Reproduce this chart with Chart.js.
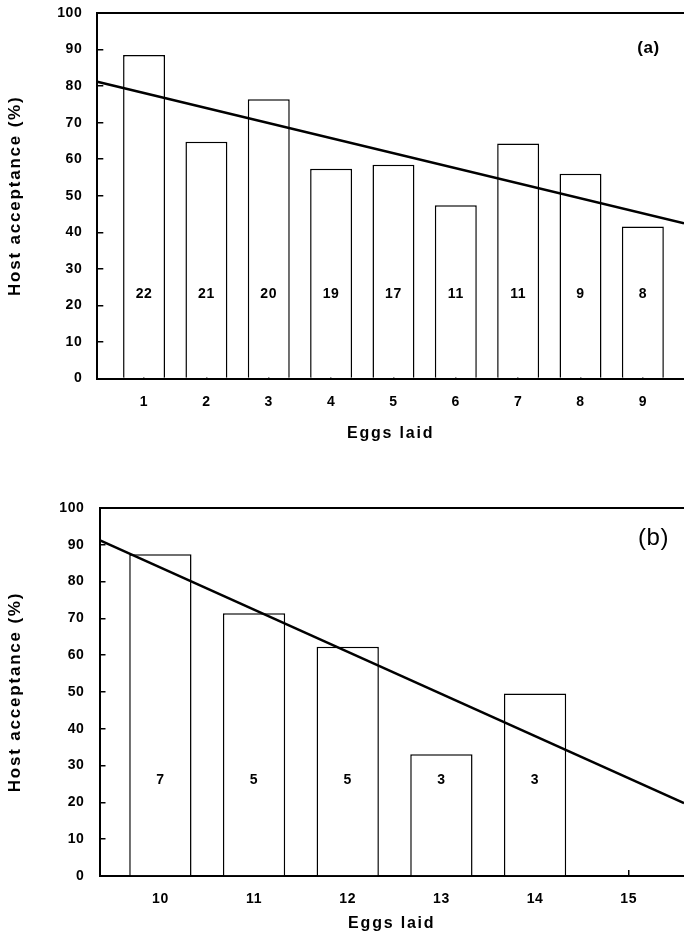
<!DOCTYPE html>
<html>
<head>
<meta charset="utf-8">
<script src="https://cdn.jsdelivr.net/npm/chart.js@4"></script>
<style>
  html, body { margin: 0; padding: 0; background: #fff; }
  .panel { position: relative; width: 684px; height: 472px; }
</style>
</head>
<body>
<div class="panel"><canvas id="chartA"></canvas></div>
<div class="panel"><canvas id="chartB"></canvas></div>
<script>
// panel (a)
const eggsA = [1, 2, 3, 4, 5, 6, 7, 8, 9];
const acceptA = [88.5, 64.8, 76.4, 57.4, 58.5, 47.4, 64.3, 56.0, 41.6];
const countsA = [22, 21, 20, 19, 17, 11, 11, 9, 8];
const fitXA = [0.25, 9.66];
const fitYA = [81.2, 42.5];

// panel (b)
const eggsB = [10, 11, 12, 13, 14];
const acceptB = [87.4, 71.4, 62.3, 33.1, 49.6];
const countsB = [7, 5, 5, 3, 3];
const ticksB = [10, 11, 12, 13, 14, 15];
const fitXB = [9.35, 15.59];
const fitYB = [91.3, 19.8];

const yTicks = [0, 10, 20, 30, 40, 50, 60, 70, 80, 90, 100];

const FONT = "'Liberation Sans', Arial, sans-serif";

const decor = {
    id: 'decor',
    beforeDraw(chart) {
        chart.ctx.letterSpacing = '1.8px';
    },
    beforeDatasetsDraw(chart) {
        chart.ctx.letterSpacing = '0.6px';
    },
    afterDatasetsDraw(chart, args, opts) {
        const ctx = chart.ctx;
        const a = chart.chartArea;
        const y = chart.scales.y;
        ctx.save();
        // frame line along the top
        ctx.strokeStyle = '#000';
        ctx.lineWidth = 2;
        ctx.beginPath();
        ctx.moveTo(a.left, a.top);
        ctx.lineTo(a.right, a.top);
        ctx.stroke();
        // sample sizes inside the bars
        ctx.fillStyle = '#000';
        ctx.textAlign = 'center';
        ctx.textBaseline = 'middle';
        ctx.font = 'bold 14px ' + FONT;
        chart.getDatasetMeta(1).data.forEach((bar, i) => {
            ctx.fillText(String(opts.counts[i]), bar.x, y.getPixelForValue(opts.countAt));
        });
        // panel tag
        ctx.font = opts.tagFont;
        ctx.fillText(opts.tag, a.right - opts.tagDx, a.top + opts.tagDy);
        ctx.restore();
    }
};

function makePanel(id, cfg) {
    return new Chart(document.getElementById(id), {
        data: {
            datasets: [{
                type: 'line',
                data: cfg.fitX.map((x, i) => ({ x: x, y: cfg.fitY[i] })),
                borderColor: '#000',
                borderWidth: 2.5,
                pointRadius: 0,
                tension: 0,
                order: 0
            }, {
                type: 'bar',
                data: cfg.eggs.map((x, i) => ({ x: x, y: cfg.accept[i] })),
                backgroundColor: '#fff',
                borderColor: '#000',
                borderWidth: 1.5,
                categoryPercentage: 1,
                barPercentage: cfg.barPct,
                order: 1
            }]
        },
        options: {
            responsive: true,
            maintainAspectRatio: false,
            animation: false,
            layout: {
                padding: { top: cfg.padTop, right: 0, bottom: 0, left: 0 }
            },
            plugins: {
                legend: { display: false },
                tooltip: { enabled: false },
                decor: {
                    counts: cfg.counts,
                    countAt: cfg.countAt,
                    tag: cfg.tag,
                    tagFont: cfg.tagFont,
                    tagDx: cfg.tagDx,
                    tagDy: cfg.tagDy
                }
            },
            scales: {
                x: {
                    type: 'linear',
                    min: cfg.xMin,
                    max: cfg.xMax,
                    offset: false,
                    afterBuildTicks: (ax) => { ax.ticks = cfg.ticks.map(v => ({ value: v })); },
                    afterFit: (ax) => { ax.height = cfg.xHeight; ax.paddingLeft = 0; ax.paddingRight = 0; },
                    grid: { display: true, offset: false, drawOnChartArea: false, tickLength: -6, color: '#000', lineWidth: 1.5 },
                    border: { display: true, color: '#000', width: 2 },
                    ticks: {
                        z: 1,
                        color: '#000',
                        padding: 21,
                        maxRotation: 0,
                        autoSkip: false,
                        font: { family: FONT, size: 14, weight: 'bold' }
                    },
                    title: {
                        display: true,
                        text: 'Eggs laid',
                        color: '#000',
                        font: { family: FONT, size: 16, weight: 'bold' },
                        padding: { top: 0, bottom: cfg.xTitlePad }
                    }
                },
                y: {
                    min: 0,
                    max: 100,
                    afterBuildTicks: (ax) => { ax.ticks = yTicks.map(v => ({ value: v })); },
                    afterFit: (ax) => { ax.width = cfg.yWidth; ax.paddingTop = 0; ax.paddingBottom = 0; },
                    grid: { display: true, drawOnChartArea: false, tickLength: -6, color: '#000', lineWidth: 1.5 },
                    border: { display: true, color: '#000', width: 2 },
                    ticks: {
                        z: 1,
                        color: '#000',
                        padding: 21,
                        font: { family: FONT, size: 14, weight: 'bold' }
                    },
                    title: {
                        display: true,
                        text: 'Host acceptance (%)',
                        color: '#000',
                        font: { family: FONT, size: 17, weight: 'bold' },
                        padding: { top: 5, bottom: 0 }
                    }
                }
            }
        },
        plugins: [decor]
    });
}

makePanel('chartA', {
    eggs: eggsA, accept: acceptA, counts: countsA, ticks: eggsA,
    fitX: fitXA, fitY: fitYA,
    xMin: 0.25, xMax: 9.66, barPct: 0.673,
    padTop: 13, xHeight: 93.5, yWidth: 97.3, xTitlePad: 28.4,
    countAt: 23,
    tag: '(a)', tagFont: 'bold 17px ' + FONT, tagDx: 35.5, tagDy: 35
});

makePanel('chartB', {
    eggs: eggsB, accept: acceptB, counts: countsB, ticks: ticksB,
    fitX: fitXB, fitY: fitYB,
    xMin: 9.35, xMax: 15.59, barPct: 0.665,
    padTop: 36, xHeight: 68, yWidth: 99.5, xTitlePad: 10.4,
    countAt: 26,
    tag: '(b)', tagFont: '24px ' + FONT, tagDx: 30.5, tagDy: 30.7
});
</script>
</body>
</html>
